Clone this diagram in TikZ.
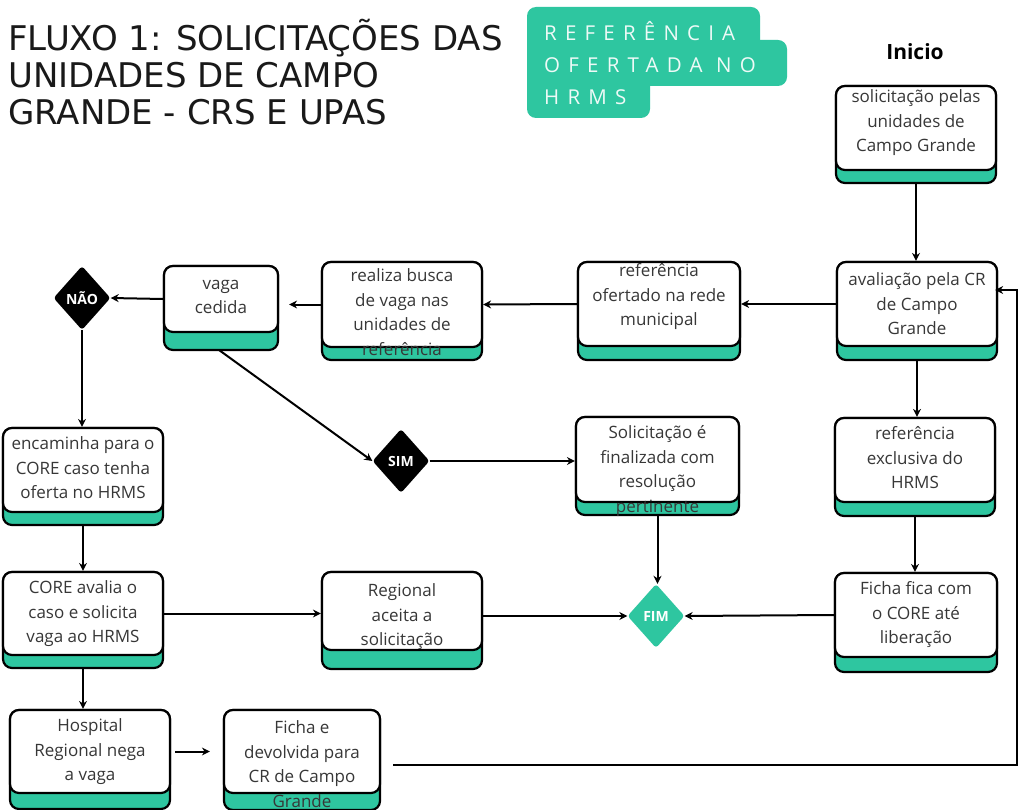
\documentclass[tikz,border=0pt]{standalone}
\usepackage{fontspec}
\setmainfont{Open Sans}
\newfontfamily\titlefont{DejaVu Sans}
\usetikzlibrary{arrows.meta,shapes.geometric,calc}
\definecolor{teal1}{RGB}{46,198,160}
\definecolor{txt}{RGB}{55,55,55}
\tikzset{
  cardwhite/.style={draw=black,line width=2.2pt,fill=white,rounded corners=9pt,inner sep=0pt},
  cardline/.style={draw=black,line width=2.2pt,rounded corners=9pt},
  cardtext/.style={align=center,inner sep=0pt,text=txt,font=\fontsize{17}{24.5}\selectfont},
  arr/.style={line width=2pt,-{Stealth[length=8pt,width=8pt]}},
  decision/.style={diamond,minimum width=57pt,minimum height=64pt,inner sep=0pt,rounded corners=3pt,text=white,font=\fontsize{14}{16}\selectfont\bfseries},
}
% name, left, right, top, whitebottom, tealbottom, text centre y, text
\newcommand{\cardbox}[8]{%
  \pgfmathsetmacro{\cw}{#3-#2}\pgfmathsetmacro{\ch}{#5-#4}%
  \pgfmathsetmacro{\cx}{(#2+#3)/2}\pgfmathsetmacro{\cy}{(#4+#5)/2}%
  \draw[cardline,fill=teal1] (#2,#4) rectangle (#3,#6);
  \node[cardwhite,minimum width=\cw pt,minimum height=\ch pt] (#1) at (\cx,\cy) {};
  \coordinate (#1b) at (\cx,#6);
  \node[cardtext] (#1t) at (\cx,#7) {#8};
}
\begin{document}
\begin{tikzpicture}[x=1pt,y=-1pt]
\useasboundingbox[fill=white] (0,0) rectangle (1019,810);

% title
\node[anchor=west,align=left,inner sep=0pt,text=black!90,font=\titlefont\fontsize{34}{37}\selectfont] (title) at (8,72)
  {FLUXO 1: SOLICITAÇÕES DAS\\UNIDADES DE CAMPO\\GRANDE - CRS E UPAS};

% teal label
\fill[teal1,rounded corners=9pt] (527,7) rectangle (760,60);
\fill[teal1,rounded corners=9pt] (527,40) rectangle (787,86);
\fill[teal1,rounded corners=9pt] (527,60) rectangle (650,118);
\node[anchor=west,align=left,inner sep=0pt,text=white!92!teal1,font=\fontsize{20.5}{32}\selectfont\addfontfeature{LetterSpace=40}] (label) at (544,63)
  {REFERÊNCIA\\OFERTADA NO\\HRMS};

\node[font=\fontsize{21}{24}\selectfont\bfseries,inner sep=0pt] (inicio) at (915,52) {Inicio};

\cardbox{A}{836}{996}{86}{170}{183}{123}{solicitação pelas\\unidades de\\Campo Grande}
\cardbox{B}{837}{997}{262}{346}{360}{304}{avaliação pela CR\\de Campo\\Grande}
\cardbox{C}{578}{740}{262}{346}{360}{297}{referência\\ofertado na rede\\municipal}
\cardbox{D}{322}{482}{262}{347}{360}{312}{realiza busca\\de vaga nas\\unidades de\\referência}
\cardbox{E}{164}{278}{266}{332}{350}{297}{vaga\\cedida}
\cardbox{F}{3}{163}{428}{512}{525}{468}{encaminha para o\\CORE caso tenha\\oferta no HRMS}
\cardbox{G}{3}{163}{572}{655}{668}{614}{CORE avalia o\\caso e solicita\\vaga ao HRMS}
\cardbox{H}{10}{170}{710}{793}{809}{752}{Hospital\\Regional nega\\a vaga}
\cardbox{I}{224}{380}{710}{793}{810}{764}{Ficha e\\devolvida para\\CR de Campo\\Grande}
\cardbox{J}{322}{482}{572}{650}{669}{617}{Regional\\aceita a\\solicitação}
\cardbox{K}{576}{739}{417}{502}{515}{471}{Solicitação é\\finalizada com\\resolução\\pertinente}
\cardbox{L}{835}{995}{418}{502}{516}{458}{referência\\exclusiva do\\HRMS}
\cardbox{M}{835}{997}{573}{657}{672}{615}{Ficha fica com\\o CORE até\\liberação}

\node[decision,fill=black] (nao) at (82,298) {NÃO};
\node[decision,fill=black] (sim) at (401,461) {SIM};
\node[decision,fill=teal1] (fim) at (656,616) {FIM};

% connectors
\draw[arr] (Ab) -- (Ab |- B.north);
\draw[arr] (B.west) -- (C.east);
\draw[arr] (C.west) -- (D.east);
\draw[arr,shorten >=10pt] (D.west) -- (D.west -| E.east);
\draw[arr] (E.west) -- (nao.east);
\draw[arr] (nao.south) -- (nao.south |- F.north);
\draw[arr] ([xshift=-2pt]Eb) -- (sim.west);
\draw[arr] (sim.east) -- (sim.east -| K.west);
\draw[arr] (Kb) -- (Kb |- fim.north);
\draw[arr] (Bb) -- (Bb |- L.north);
\draw[arr] (Lb) -- (Lb |- M.north);
\draw[arr] (M.west) -- (fim.east);
\draw[arr] (G.east) -- (G.east -| J.west);
\draw[arr] (J.east |- fim.west) -- (fim.west);
\draw[arr] (Fb) -- (Fb |- G.north);
\draw[arr] (Gb) -- (Gb |- H.north);
\draw[arr,shorten <=4pt,shorten >=13pt] (H.east) -- (H.east -| I.west);
\coordinate (rc) at (1017,765);
\draw[arr,shorten >=-3pt] ([xshift=12pt,yshift=-13.5pt]I.east) -- (rc) |- ([yshift=14pt]B.east);
\end{tikzpicture}
\end{document}
